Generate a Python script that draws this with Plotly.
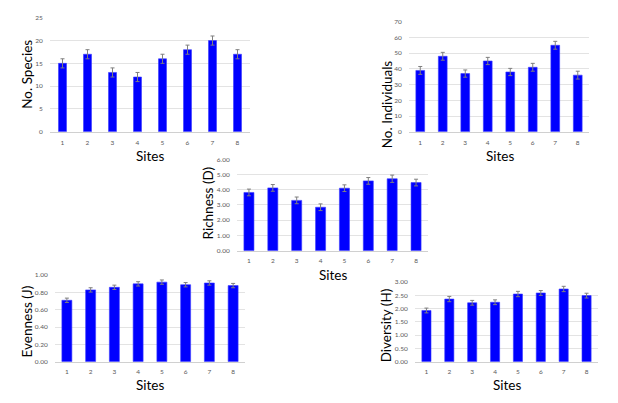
import plotly.graph_objects as go

W, H = 618, 403

sites = [1, 2, 3, 4, 5, 6, 7, 8]

species = [15, 17, 13, 12, 16, 18, 20, 17]
species_err = [1.0, 1.0, 1.0, 1.0, 1.0, 1.0, 1.0, 1.0]

individuals = [39, 48, 37, 45, 38, 41, 55, 36]
individuals_err = [2.5, 2.5, 2.3, 2.3, 2.3, 2.5, 2.5, 2.5]

richness = [3.82, 4.12, 3.30, 2.85, 4.10, 4.58, 4.72, 4.47]
richness_err = [0.22, 0.22, 0.22, 0.22, 0.22, 0.22, 0.24, 0.22]

evenness = [0.71, 0.83, 0.86, 0.90, 0.92, 0.89, 0.91, 0.88]
evenness_err = [0.025, 0.025, 0.025, 0.025, 0.025, 0.025, 0.025, 0.025]

diversity = [1.93, 2.36, 2.22, 2.24, 2.55, 2.59, 2.74, 2.49]
diversity_err = [0.09, 0.10, 0.09, 0.09, 0.10, 0.09, 0.10, 0.09]

y_titles = ["No. Species", "No. Individuals", "Richness (D)", "Evenness (J)", "Diversity (H)"]
x_title = "Sites"

# panel pixel boxes: (x0, x1, ytop, ybottom)
panels = [
    dict(y=species, e=species_err, box=(50, 250, 14, 130), rng=[0, 25], dt=5, fmt="d", bw=0.32,
         yt=(27, 72), xt=(150, 155)),
    dict(y=individuals, e=individuals_err, box=(409, 589, 18, 130), rng=[0, 70], dt=10, fmt="d", bw=0.39,
         yt=(387, 102), xt=(500, 155)),
    dict(y=richness, e=richness_err, box=(237, 428, 158, 251), rng=[0, 6], dt=1, fmt=".2f", bw=0.42,
         yt=(208, 203), xt=(333, 276)),
    dict(y=evenness, e=evenness_err, box=(55, 245, 276, 364), rng=[0, 1], dt=0.2, fmt=".2f", bw=0.42,
         yt=(27, 323), xt=(150, 388)),
    dict(y=diversity, e=diversity_err, box=(415, 598, 283, 364), rng=[0, 3], dt=0.5, fmt=".2f", bw=0.40,
         yt=(386, 327), xt=(507, 388)),
]

fig = go.Figure()
annotations = []
FONT = "Lato, 'Open Sans', sans-serif"
for i, p in enumerate(panels):
    n = i + 1
    xa = "x" if n == 1 else f"x{n}"
    ya = "y" if n == 1 else f"y{n}"
    fig.add_trace(go.Bar(
        x=sites, y=p["y"], xaxis=xa, yaxis=ya, width=p["bw"],
        marker=dict(color="#0000ff", line=dict(color="#3a3aff", width=0.6)),
        error_y=dict(type="data", array=p["e"], color="#7f7f7f", thickness=1, width=2),
        showlegend=False,
    ))
    x0, x1, yt, yb = p["box"]
    xkey = "xaxis" if n == 1 else f"xaxis{n}"
    ykey = "yaxis" if n == 1 else f"yaxis{n}"
    fig.layout[xkey] = dict(
        domain=[x0 / W, x1 / W], anchor=ya, range=[0.5, 8.5],
        tickmode="array", tickvals=sites, ticktext=[str(s) for s in sites],
        showgrid=False, zeroline=False, showline=True, linecolor="#d0d0d0", linewidth=1,
        ticks="outside", ticklen=4, tickcolor="rgba(0,0,0,0)",
        tickfont=dict(size=6.5, color="#595959", family=FONT), fixedrange=True,
    )
    fig.layout[ykey] = dict(
        domain=[1 - yb / H, 1 - yt / H], anchor=xa, range=p["rng"],
        tick0=0, dtick=p["dt"], tickformat=p["fmt"],
        showgrid=True, gridcolor="#e3e3e3", gridwidth=1, zeroline=False, showline=False,
        ticks="outside", ticklen=5, tickcolor="rgba(0,0,0,0)",
        tickfont=dict(size=6.5, color="#595959", family=FONT), fixedrange=True,
    )
    annotations.append(dict(
        text=y_titles[i], x=p["yt"][0] / W, y=1 - p["yt"][1] / H, xref="paper", yref="paper",
        showarrow=False, textangle=-90, xanchor="center", yanchor="middle",
        font=dict(size=13.5, color="#000000", family=FONT),
    ))
    annotations.append(dict(
        text=x_title, x=p["xt"][0] / W, y=1 - p["xt"][1] / H, xref="paper", yref="paper",
        showarrow=False, xanchor="center", yanchor="middle",
        font=dict(size=13.5, color="#000000", family=FONT),
    ))

fig.update_layout(
    width=W, height=H, margin=dict(l=0, r=0, t=0, b=0),
    paper_bgcolor="white", plot_bgcolor="white",
    annotations=annotations, bargap=0.6,
)

fig.write_html("out.html", config={"displayModeBar": False},
               post_script="document.body.style.margin='0';document.body.style.overflow='hidden';")
